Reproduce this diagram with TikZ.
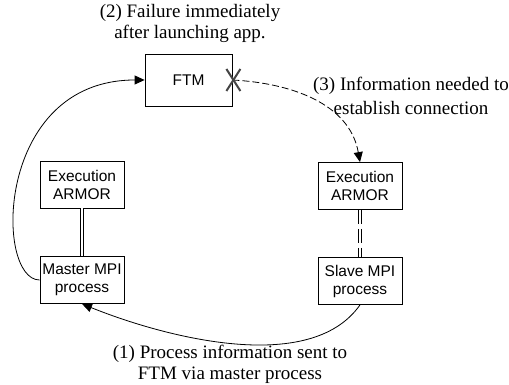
\documentclass[tikz,border=0pt]{standalone}
\usepackage{fontspec}
\setmainfont{Liberation Serif}
\setsansfont{Liberation Sans}
\usetikzlibrary{arrows.meta}
\definecolor{xgray}{HTML}{454545}

\begin{document}
\begin{tikzpicture}[x=1pt, y=1pt, align=center,
  box/.style={draw, line width=0.8pt, minimum width=84pt, minimum height=47pt, inner sep=0pt, font=\sffamily\fontsize{15.5}{18}\selectfont},
  note/.style={inner sep=0pt, font=\fontsize{19}{21}\selectfont},
  link/.style={line width=0.8pt, -{Triangle[length=10pt, width=9pt]}},
  pair/.style={double, double distance=2.2pt, line width=0.8pt}]
\useasboundingbox (0,0) rectangle (509,385);
\node[box, minimum width=87pt, minimum height=52pt] (ftm) at (188.5,305) {FTM};
\node[box] (armorL) at (82,200.5) {Execution\\ARMOR};
\node[box] (master) at (82,105) {Master MPI\\process};
\node[box] (armorR) at (360,199) {Execution\\ARMOR};
\node[box] (slave) at (360,104) {Slave MPI\\process};
\node[note] (failure) at (190,362) {(2) Failure immediately\\after launching app.};
\node[note, font=\fontsize{19}{24}\selectfont] (info) at (411,289) {(3) Information needed to\\establish connection};
\node[note] (process) at (230,21) {(1) Process information sent to\\FTM via master process};
% links between the boxes
\draw[pair] (armorL) -- (master);
\draw[pair, dash pattern=on 14pt off 5pt] (armorR) -- (slave);
\draw[link] (slave.south) to[out=235, in=-22, looseness=0.8] (master.south);
\draw[link] (master.west) .. controls +(-45,0) and +(-150,0) .. (ftm.west);
\draw[link, dash pattern=on 7pt off 3pt] (ftm.east) to[out=-3, in=100] (armorR.north);
% failure mark
\draw[xgray, line width=2pt] ([shift={(-6,11)}]ftm.east) -- ([shift={(8,-11)}]ftm.east);
\draw[xgray, line width=2pt] ([shift={(-6,-11)}]ftm.east) -- ([shift={(8,11)}]ftm.east);
\end{tikzpicture}
\end{document}
